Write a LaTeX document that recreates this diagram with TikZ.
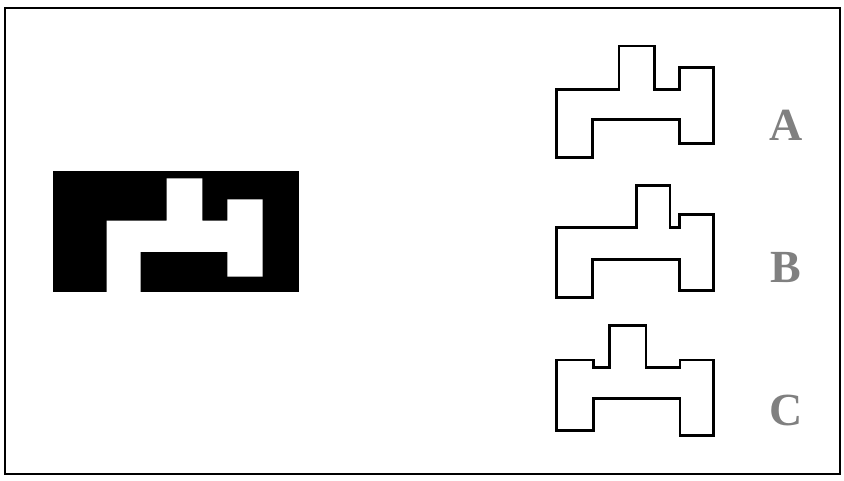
\documentclass[tikz,border=0pt]{standalone}
\usepackage{fontspec}
\setmainfont{Liberation Serif}
\begin{document}
\begin{tikzpicture}[x=1pt,y=-1pt,
  outline/.style={draw=black,line width=2.6pt,line join=miter,fill=white},
  optlabel/.style={text=black!50,font=\fontsize{46}{46}\selectfont\bfseries,inner sep=0pt,anchor=center}]
\useasboundingbox (0,0) rectangle (844,481);
\draw[line width=1.3pt] (5,8) rectangle (840,474);
% black target figure
\fill[black] (53,171) rectangle (299,292);
\fill[white] (106.7,292) -- (106.7,220.7) -- (166.7,220.7) -- (166.7,178.3) -- (202.3,178.3) -- (202.3,220.7) -- (227.3,220.7) -- (227.3,199.3) -- (262.7,199.3) -- (262.7,276.7) -- (227.3,276.7) -- (227.3,252) -- (140.7,252) -- (140.7,292) -- cycle;
% option A
\draw[outline] (556.7,157.7) -- (556.7,89.3) -- (619,89.3) -- (619,46) -- (654.7,46) -- (654.7,89.3) -- (679.3,89.3) -- (679.3,67.3) -- (713.7,67.3) -- (713.7,143.7) -- (679.3,143.7) -- (679.3,119.3) -- (592.3,119.3) -- (592.3,157.7) -- cycle;
% option B
\draw[outline] (556.7,297.7) -- (556.7,227.3) -- (636.7,227.3) -- (636.7,185.7) -- (670,185.7) -- (670,227.3) -- (679.3,227.3) -- (679.3,214.3) -- (713.7,214.3) -- (713.7,290.7) -- (679.3,290.7) -- (679.3,259.7) -- (592.3,259.7) -- (592.3,297.7) -- cycle;
% option C
\draw[outline] (556.7,430.7) -- (556.7,360) -- (593.3,360) -- (593.3,367.3) -- (609.3,367.3) -- (609.3,325.7) -- (646,325.7) -- (646,367.3) -- (680,367.3) -- (680,360) -- (713.7,360) -- (713.7,435.7) -- (680,435.7) -- (680,398.3) -- (593.3,398.3) -- (593.3,430.7) -- cycle;
\node[optlabel] (la) at (786,125) {A};
\node[optlabel] (lb) at (786,268) {B};
\node[optlabel] (lc) at (786,410) {C};
\end{tikzpicture}
\end{document}
